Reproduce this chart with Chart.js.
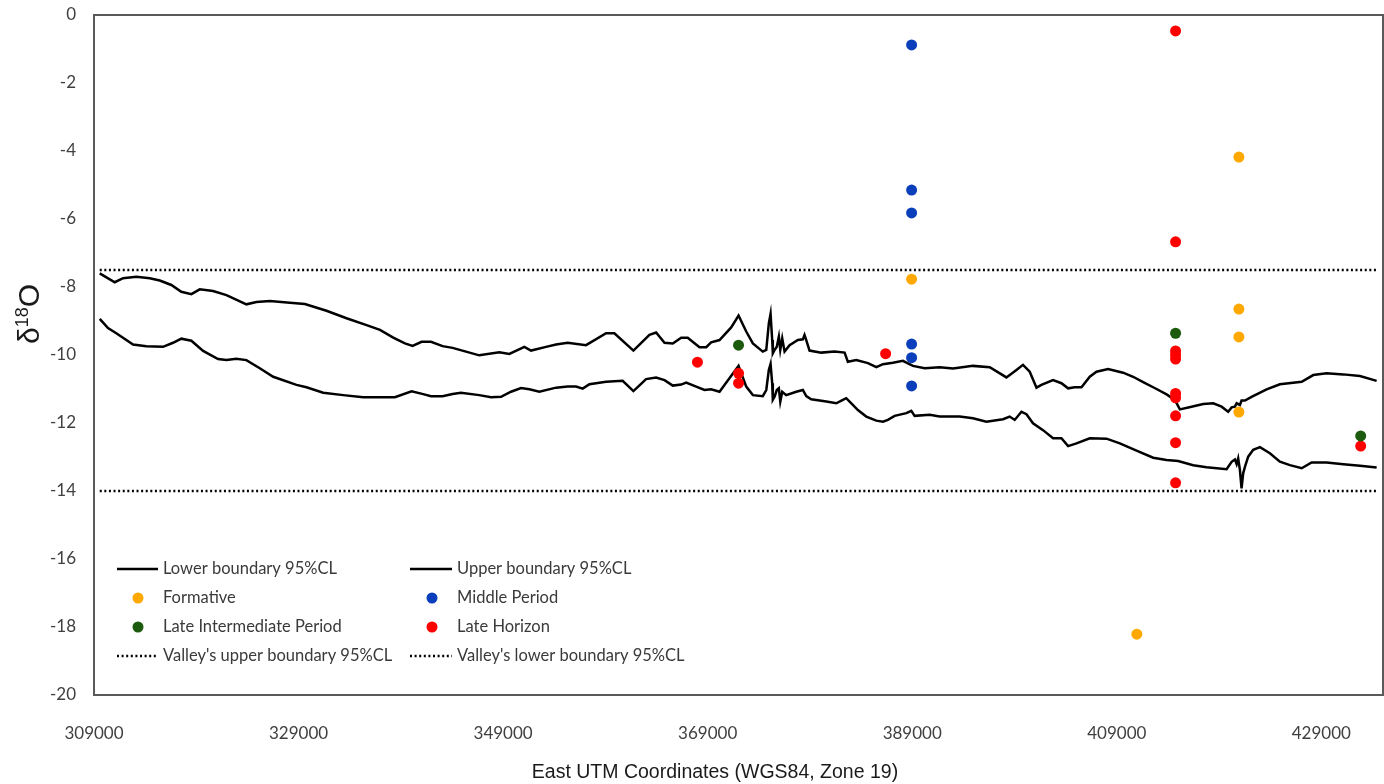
<!DOCTYPE html>
<html>
<head>
<meta charset="utf-8">
<script src="https://cdn.jsdelivr.net/npm/chart.js@4.4.1/dist/chart.umd.min.js"></script>
<style>
  html, body { margin: 0; padding: 0; background: #ffffff; }
  #wrap { width: 1384px; height: 784px; position: relative; }
</style>
</head>
<body>
<div id="wrap"><canvas id="c" width="1384" height="784"></canvas></div>
<script>
// ---------- DATA (East UTM, δ18O) ----------
const xTicks = [309000, 329000, 349000, 369000, 389000, 409000, 429000];
const yTicks = [0, -2, -4, -6, -8, -10, -12, -14, -16, -18, -20];

const upperCurve = [
  [309560,-7.60],[311030,-7.86],[311840,-7.74],[313140,-7.70],[314450,-7.74],[315430,-7.81],
  [316560,-7.94],[317540,-8.14],[318520,-8.21],[319340,-8.07],[320640,-8.12],[321950,-8.24],
  [323900,-8.51],[324880,-8.44],[326190,-8.41],[328150,-8.46],[329620,-8.50],[331730,-8.70],
  [333690,-8.92],[335650,-9.12],[336960,-9.26],[338260,-9.49],[339400,-9.66],[340150,-9.73],
  [341030,-9.61],[341950,-9.61],[343080,-9.74],[344060,-9.79],[345370,-9.90],[346670,-10.01],
  [348630,-9.92],[349610,-9.97],[351080,-9.76],[351730,-9.87],[353200,-9.76],[354180,-9.69],
  [355310,-9.64],[357110,-9.71],[359070,-9.36],[359880,-9.36],[361740,-9.87],[363310,-9.41],
  [363960,-9.34],[364780,-9.64],[365590,-9.66],[366410,-9.49],[367050,-9.49],[368200,-9.77],
  [368860,-9.77],[369340,-9.63],[370160,-9.56],[371300,-9.19],[372020,-8.84],[372770,-9.31],
  [373420,-9.66],[374390,-9.90],[374730,-9.85],[374980,-9.07],[375150,-8.79],[375310,-9.56],
  [375370,-9.95],[375540,-9.85],[375760,-9.76],[375960,-9.46],[376100,-9.85],[376290,-9.51],
  [376520,-9.90],[377010,-9.71],[377820,-9.56],[378310,-9.54],[378470,-9.41],[378640,-9.56],
  [378960,-9.87],[380110,-9.93],[381410,-9.90],[382390,-9.93],[382710,-10.20],[383530,-10.15],
  [384670,-10.24],[385490,-10.36],[386140,-10.27],[387110,-10.23],[388090,-10.17],[389070,-10.32],
  [390220,-10.39],[391680,-10.36],[392990,-10.40],[394940,-10.32],[396580,-10.36],[398210,-10.66],
  [399190,-10.44],[399830,-10.29],[400490,-10.49],[401150,-10.96],[401630,-10.88],[402770,-10.74],
  [403590,-10.83],[404240,-10.98],[404890,-10.95],[405550,-10.95],[406360,-10.64],[407020,-10.49],
  [408150,-10.41],[409620,-10.52],[410600,-10.64],[411580,-10.80],[412890,-11.00],[413870,-11.16],
  [414680,-11.32],[415170,-11.60],[416310,-11.52],[417450,-11.44],[418430,-11.42],[419250,-11.52],
  [419890,-11.67],[420230,-11.54],[420550,-11.52],[420720,-11.42],[421040,-11.47],[421200,-11.34],
  [421530,-11.34],[422180,-11.23],[423650,-11.01],[424950,-10.86],[427080,-10.79],[428210,-10.59],
  [429520,-10.54],[431150,-10.57],[432780,-10.62],[434410,-10.76]
];

const lowerCurve = [
  [309560,-8.94],[310370,-9.21],[311180,-9.36],[312820,-9.69],[314120,-9.74],[315750,-9.76],
  [316730,-9.64],[317540,-9.52],[318520,-9.58],[319670,-9.88],[321130,-10.12],[321950,-10.15],
  [322920,-10.11],[323900,-10.15],[325210,-10.39],[326520,-10.64],[328800,-10.88],[329770,-10.95],
  [331410,-11.11],[333370,-11.18],[335320,-11.24],[338420,-11.24],[340050,-11.07],[341190,-11.15],
  [341950,-11.21],[343080,-11.21],[344060,-11.15],[344880,-11.11],[346670,-11.18],[347820,-11.24],
  [348800,-11.23],[349770,-11.08],[350750,-10.97],[351570,-11.01],[352540,-11.08],[354180,-10.96],
  [355310,-10.93],[356130,-10.93],[356780,-10.99],[357440,-10.86],[359070,-10.79],[360690,-10.76],
  [361740,-11.06],[362980,-10.71],[363960,-10.66],[364780,-10.74],[365590,-10.90],[366410,-10.87],
  [366900,-10.81],[367880,-10.93],[368690,-11.03],[369340,-11.01],[370160,-11.08],[372020,-10.32],
  [372770,-10.93],[373420,-11.18],[374390,-11.21],[374730,-11.03],[374980,-10.44],[375150,-10.26],
  [375310,-10.83],[375370,-11.32],[375540,-11.23],[375760,-11.03],[375960,-10.98],[376100,-11.37],
  [376290,-11.08],[376680,-11.18],[377660,-11.08],[378310,-11.03],[378640,-11.21],[379130,-11.30],
  [380600,-11.37],[381580,-11.42],[382220,-11.32],[382550,-11.27],[382880,-11.37],[383690,-11.62],
  [384510,-11.81],[385490,-11.93],[386140,-11.96],[386620,-11.91],[387280,-11.79],[388430,-11.71],
  [388910,-11.64],[389240,-11.79],[390710,-11.76],[391680,-11.81],[393640,-11.81],[394940,-11.86],
  [396250,-11.96],[397880,-11.89],[398530,-11.81],[399020,-11.91],[399680,-11.67],[400170,-11.74],
  [400810,-12.01],[401790,-12.21],[402770,-12.45],[403590,-12.45],[404240,-12.68],[405060,-12.60],
  [406360,-12.45],[408000,-12.46],[409300,-12.60],[410930,-12.81],[412560,-13.02],[413870,-13.09],
  [415000,-13.12],[416470,-13.24],[417780,-13.30],[419740,-13.36],[420230,-13.14],[420550,-13.07],
  [420720,-13.21],[420870,-13.04],[421040,-13.38],[421200,-13.92],[421360,-13.48],[421530,-13.29],
  [421850,-12.99],[422340,-12.79],[423000,-12.71],[423970,-12.89],[424950,-13.14],[425930,-13.24],
  [427080,-13.33],[428050,-13.16],[429520,-13.16],[431150,-13.21],[432780,-13.26],[434410,-13.31]
];

const valleyUpper = [[309560,-7.5],[434410,-7.5]];
const valleyLower = [[309560,-14.0],[434410,-14.0]];

const formative = [[388940,-7.77],[420940,-4.18],[420940,-8.65],[420940,-9.47],[420940,-11.68],[410960,-18.21]];
const middlePeriod = [[388940,-0.88],[388940,-5.15],[388940,-5.82],[388940,-9.68],[388940,-10.08],[388940,-10.91]];
const lateIntermediate = [[372020,-9.71],[414750,-9.36],[432850,-12.38]];
const lateHorizon = [
  [368000,-10.21],[372020,-10.54],[372020,-10.83],[386400,-9.96],
  [414750,-0.47],[414750,-6.67],[414750,-9.88],[414750,-10.00],[414750,-10.12],
  [414750,-11.13],[414750,-11.26],[414750,-11.79],[414750,-12.58],[414750,-13.76],
  [432850,-12.68]
];

const seriesNames = ["Lower boundary 95%CL","Upper boundary 95%CL","Formative","Middle Period",
  "Late Intermediate Period","Late Horizon","Valley's upper boundary 95%CL","Valley's lower boundary 95%CL"];
const xTitle = "East UTM Coordinates (WGS84, Zone 19)";

// ---------- helpers ----------
const toXY = arr => arr.map(p => ({x: p[0], y: p[1]}));
const TICK_FONT = "Lato, 'Open Sans', sans-serif";

const lineDs = (label, pts, dash, width) => ({
  type: 'line', label, data: toXY(pts), borderColor: '#000000', backgroundColor: '#000000',
  borderWidth: width, borderDash: dash, pointRadius: 0, pointHoverRadius: 0,
  tension: 0, fill: false, order: 2, kind: dash.length ? 'dotted' : 'line'
});
const ptDs = (label, pts, color) => ({
  type: 'scatter', label, data: toXY(pts), backgroundColor: color, borderColor: color,
  pointRadius: 5.5, pointHoverRadius: 5.5, borderWidth: 0, order: 0, showLine: false, kind: 'point'
});

const datasets = [
  lineDs(seriesNames[0], lowerCurve, [], 2.5),
  lineDs(seriesNames[1], upperCurve, [], 2.5),
  ptDs(seriesNames[2], formative, '#FFA800'),
  ptDs(seriesNames[3], middlePeriod, '#0A3EBA'),
  ptDs(seriesNames[4], lateIntermediate, '#1C5A0E'),
  ptDs(seriesNames[5], lateHorizon, '#FF0000'),
  lineDs(seriesNames[6], valleyUpper, [2, 2.6], 2.5),
  lineDs(seriesNames[7], valleyLower, [2, 2.6], 2.5)
];

// ---------- plugins ----------
const bgPlugin = {
  id: 'bg',
  beforeDraw(chart) {
    const ctx = chart.ctx;
    ctx.save(); ctx.fillStyle = '#ffffff'; ctx.fillRect(0, 0, chart.width, chart.height); ctx.restore();
  }
};

const framePlugin = {
  id: 'frame',
  beforeDatasetsDraw(chart) {
    const {left, top, right, bottom} = chart.chartArea;
    const ctx = chart.ctx;
    ctx.save();
    ctx.strokeStyle = '#5a5a5a';
    ctx.lineWidth = 2;
    ctx.strokeRect(left, top, right - left, bottom - top);
    ctx.restore();
  }
};

const titlesPlugin = {
  id: 'titles',
  afterDraw(chart) {
    const ctx = chart.ctx;
    ctx.save();
    // x title
    ctx.fillStyle = '#1a1a1a';
    ctx.font = "19.5px 'Liberation Sans', Arial, sans-serif";
    ctx.textAlign = 'center';
    ctx.textBaseline = 'middle';
    ctx.fillText(xTitle, 715, 773);
    // y title δ18O with superscript
    ctx.translate(39, 314);
    ctx.rotate(-Math.PI / 2);
    ctx.textAlign = 'left';
    ctx.textBaseline = 'alphabetic';
    const big = "30px 'Liberation Sans', Arial, sans-serif";
    const small = "18px 'Liberation Sans', Arial, sans-serif";
    ctx.font = big; const w1 = ctx.measureText('δ').width; const w3 = ctx.measureText('O').width;
    ctx.font = small; const w2 = ctx.measureText('18').width;
    let x = -(w1 + w2 + w3) / 2;
    ctx.font = big; ctx.fillText('δ', x, 0); x += w1;
    ctx.font = small; ctx.fillText('18', x, -11); x += w2;
    ctx.font = big; ctx.fillText('O', x, 0);
    ctx.restore();
  }
};

const legendPlugin = {
  id: 'customLegend',
  afterDraw(chart) {
    const ctx = chart.ctx;
    const cols = [{sym: 117, symEnd: 158, dot: 138, text: 163}, {sym: 410, symEnd: 452, dot: 432, text: 457}];
    const rows = [569, 598, 627, 656];
    ctx.save();
    ctx.font = "16.5px " + TICK_FONT;
    ctx.textBaseline = 'middle';
    ctx.textAlign = 'left';
    chart.data.datasets.forEach((ds, i) => {
      const c = cols[i % 2], y = rows[Math.floor(i / 2)];
      if (ds.kind === 'point') {
        ctx.fillStyle = ds.backgroundColor;
        ctx.beginPath(); ctx.arc(c.dot, y, 5.5, 0, Math.PI * 2); ctx.fill();
      } else {
        ctx.strokeStyle = '#000';
        ctx.lineWidth = ds.borderWidth;
        ctx.setLineDash(ds.borderDash);
        ctx.beginPath(); ctx.moveTo(c.sym, y); ctx.lineTo(c.symEnd, y); ctx.stroke();
        ctx.setLineDash([]);
      }
      ctx.fillStyle = '#3a3a3a';
      ctx.fillText(ds.label, c.text, y);
    });
    ctx.restore();
  }
};

new Chart(document.getElementById('c'), {
  data: { datasets },
  options: {
    responsive: false,
    animation: false,
    events: [],
    layout: { autoPadding: false, padding: { top: 15, right: 1, left: 0, bottom: 0 } },
    plugins: { legend: { display: false }, tooltip: { enabled: false } },
    scales: {
      x: {
        type: 'linear', position: 'bottom', min: 309000, max: 435030,
        grid: { display: false, drawTicks: false }, border: { display: false },
        afterBuildTicks: s => { s.ticks = xTicks.map(v => ({ value: v })); },
        afterFit: s => { s.height = 89; s.paddingLeft = 0; s.paddingRight = 0; },
        ticks: { color: '#404040', font: { family: TICK_FONT, size: 17 }, padding: 28,
                 maxRotation: 0, autoSkip: false, callback: v => String(v) }
      },
      y: {
        type: 'linear', position: 'left', min: -20, max: 0,
        grid: { display: false, drawTicks: false }, border: { display: false },
        afterBuildTicks: s => { s.ticks = yTicks.map(v => ({ value: v })); },
        afterFit: s => { s.width = 94; s.paddingTop = 0; s.paddingBottom = 0; },
        ticks: { color: '#404040', font: { family: TICK_FONT, size: 17 }, padding: 18,
                 callback: v => String(v) }
      }
    }
  },
  plugins: [bgPlugin, framePlugin, titlesPlugin, legendPlugin]
});
</script>
</body>
</html>
